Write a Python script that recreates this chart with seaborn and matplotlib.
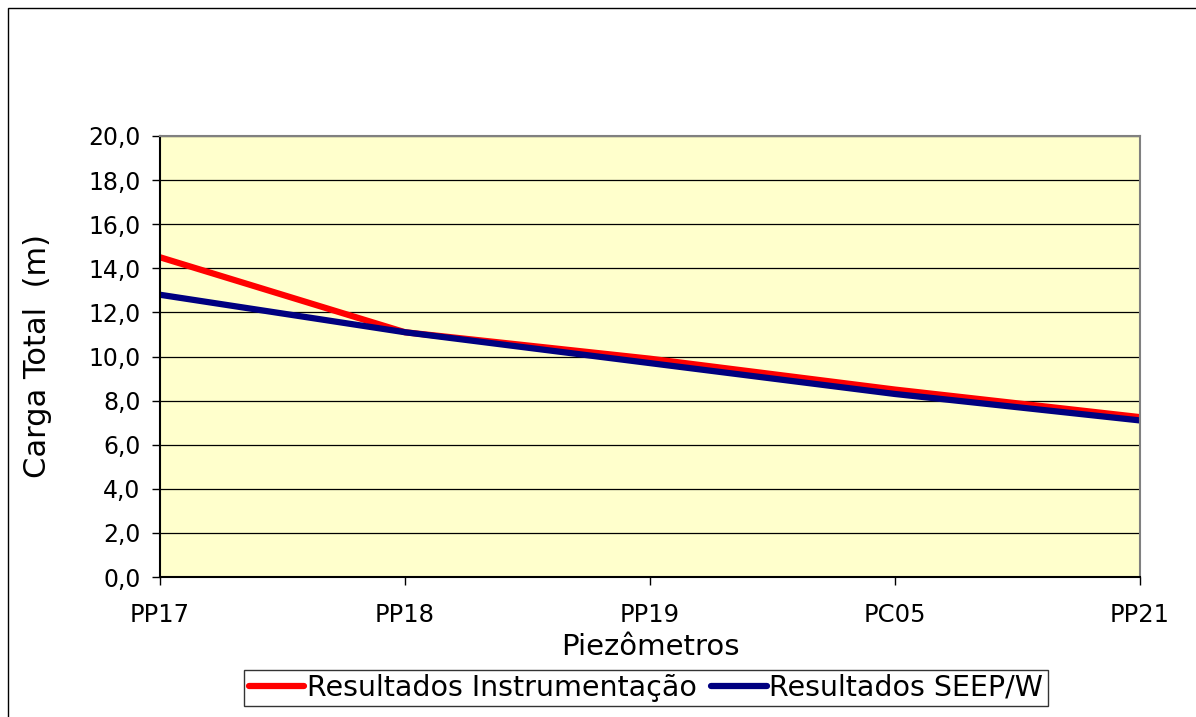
import matplotlib
matplotlib.use("Agg")
import matplotlib.pyplot as plt
import matplotlib.patches as mpatches
import seaborn as sns
import pandas as pd

piezometros = ["PP17", "PP18", "PP19", "PC05", "PP21"]
instrumentacao = [14.5, 11.1, 9.9, 8.5, 7.25]
seepw = [12.8, 11.1, 9.7, 8.3, 7.1]

df = pd.DataFrame({
    "pos": list(range(len(piezometros))) * 2,
    "carga": instrumentacao + seepw,
    "serie": ["Resultados Instrumentação"] * 5 + ["Resultados SEEP/W"] * 5,
})

sns.set_style("white")
plt.rcParams["font.family"] = ["DejaVu Sans"]
plt.rcParams["text.color"] = "black"
plt.rcParams["axes.labelcolor"] = "black"
plt.rcParams["xtick.color"] = "black"
plt.rcParams["ytick.color"] = "black"

fig = plt.figure(figsize=(11.96, 7.17), dpi=100)
ax = fig.add_axes([160 / 1196, 140 / 717, 980 / 1196, 441 / 717])
ax.set_facecolor("#FFFFCC")

sns.lineplot(data=df, x="pos", y="carga", hue="serie",
             palette=["#FF0000", "#000080"], linewidth=4.5, ax=ax,
             legend=False)

ax.set_xlim(0, 4)
ax.set_ylim(0, 20)
ax.set_yticks(range(0, 21, 2))
ax.set_yticklabels([f"{v},0" for v in range(0, 21, 2)], fontsize=17)
ax.set_xticks(range(5))
ax.set_xticklabels(piezometros, fontsize=17.5)
ax.yaxis.grid(True, color="black", linewidth=0.9)
ax.set_axisbelow(True)
ax.tick_params(axis="y", direction="out", length=6, width=1, left=True, pad=8)
ax.tick_params(axis="x", direction="out", length=6, width=1, bottom=True, pad=13)
for s in ax.spines.values():
    s.set_color("#808080")
    s.set_linewidth(1.5)
ax.spines["left"].set_color("black")
ax.spines["bottom"].set_color("black")

ax.set_xlabel("Piezômetros", fontsize=21, labelpad=4)
ax.set_ylabel("Carga Total  (m)", fontsize=22, labelpad=26)

handles = [plt.Line2D([], [], color="#FF0000", lw=4.5),
           plt.Line2D([], [], color="#000080", lw=4.5)]
leg = fig.legend(handles, ["Resultados Instrumentação", "Resultados SEEP/W"],
                 loc="center", bbox_to_anchor=(646 / 1196, 1 - 688 / 717),
                 ncol=2, fontsize=20.5, frameon=True, fancybox=False,
                 handlelength=1.95, handletextpad=0.1, columnspacing=0.5,
                 borderpad=0.15, borderaxespad=0, edgecolor="black")
leg.get_frame().set_linewidth(1)

fig.patches.append(mpatches.Rectangle((8 / 1196, -0.05), 1.1, 1.05 - 8 / 717,
                                      transform=fig.transFigure, fill=False,
                                      edgecolor="black", linewidth=1))

fig.savefig("out.png", dpi=100, facecolor="white")
